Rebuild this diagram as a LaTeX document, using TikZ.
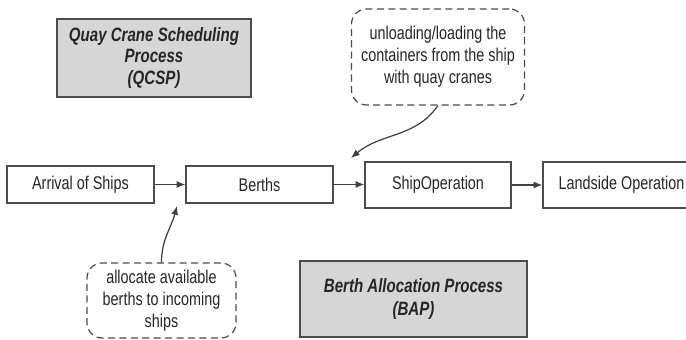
\documentclass[tikz,border=0pt]{standalone}
\usepackage{fontspec}
\setmainfont{Liberation Sans}[FakeStretch=0.78]
\usetikzlibrary{arrows.meta}
\begin{document}
\begin{tikzpicture}[x=0.02cm, y=-0.02cm, font=\fontsize{10.5}{12.5}\selectfont,
      >={Latex[length=5pt,width=4pt]},
      box/.style={draw=black!70, line width=0.7pt, align=center, inner sep=2pt, text=black!85},
      stage/.style={box, fill=white},
      proc/.style={box, fill=black!16, font=\fontsize{11}{12}\selectfont\bfseries\itshape},
      note/.style={box, rounded corners=0.3cm, dash pattern=on 4pt off 2.5pt},
      link/.style={->, draw=black!75, line width=0.7pt}]
    \useasboundingbox (0,0) rectangle (686,340);
    \clip (0,0) rectangle (686,340);
    \node[proc, minimum width=3.88cm, minimum height=1.56cm] (qcsp) at (154,58) {Quay Crane Scheduling\\Process\\(QCSP)};
    \node[note, minimum width=3.46cm, minimum height=1.92cm] (topnote) at (438,57) {unloading/loading the\\containers from the ship\\with quay cranes};
    \node[stage, minimum width=2.94cm, minimum height=0.74cm] (arr) at (80.5,184.5) {Arrival of Ships};
    \node[stage, minimum width=2.94cm, minimum height=0.74cm] (berths) at (259.5,184.5) {Berths};
    \node[stage, minimum width=2.92cm, minimum height=0.92cm] (shipop) at (438,185) {ShipOperation};
    \node[stage, minimum width=3.14cm, minimum height=0.92cm] (land) at (621.5,185) {Landside Operation};
    \node[note, minimum width=2.98cm, minimum height=1.5cm] (botnote) at (161.5,300.5) {allocate available\\berths to incoming\\ships};
    \node[proc, minimum width=4.54cm, minimum height=1.52cm, font=\fontsize{11}{13}\selectfont\bfseries\itshape] (bap) at (413.5,299) {Berth Allocation Process\\(BAP)};
    \coordinate (tipa) at (351,158);
    \coordinate (tipb) at (177,206);
    \draw[link] (arr) -- (berths);
    \draw[link] (berths) -- (berths -| shipop.west);
    \draw[link] (shipop) -- (land);
    \draw[link] (topnote.south) to[out=-125, in=40] (tipa);
    \draw[link] (botnote.north) to[out=90, in=-105] (tipb);
  \end{tikzpicture}
\end{document}
